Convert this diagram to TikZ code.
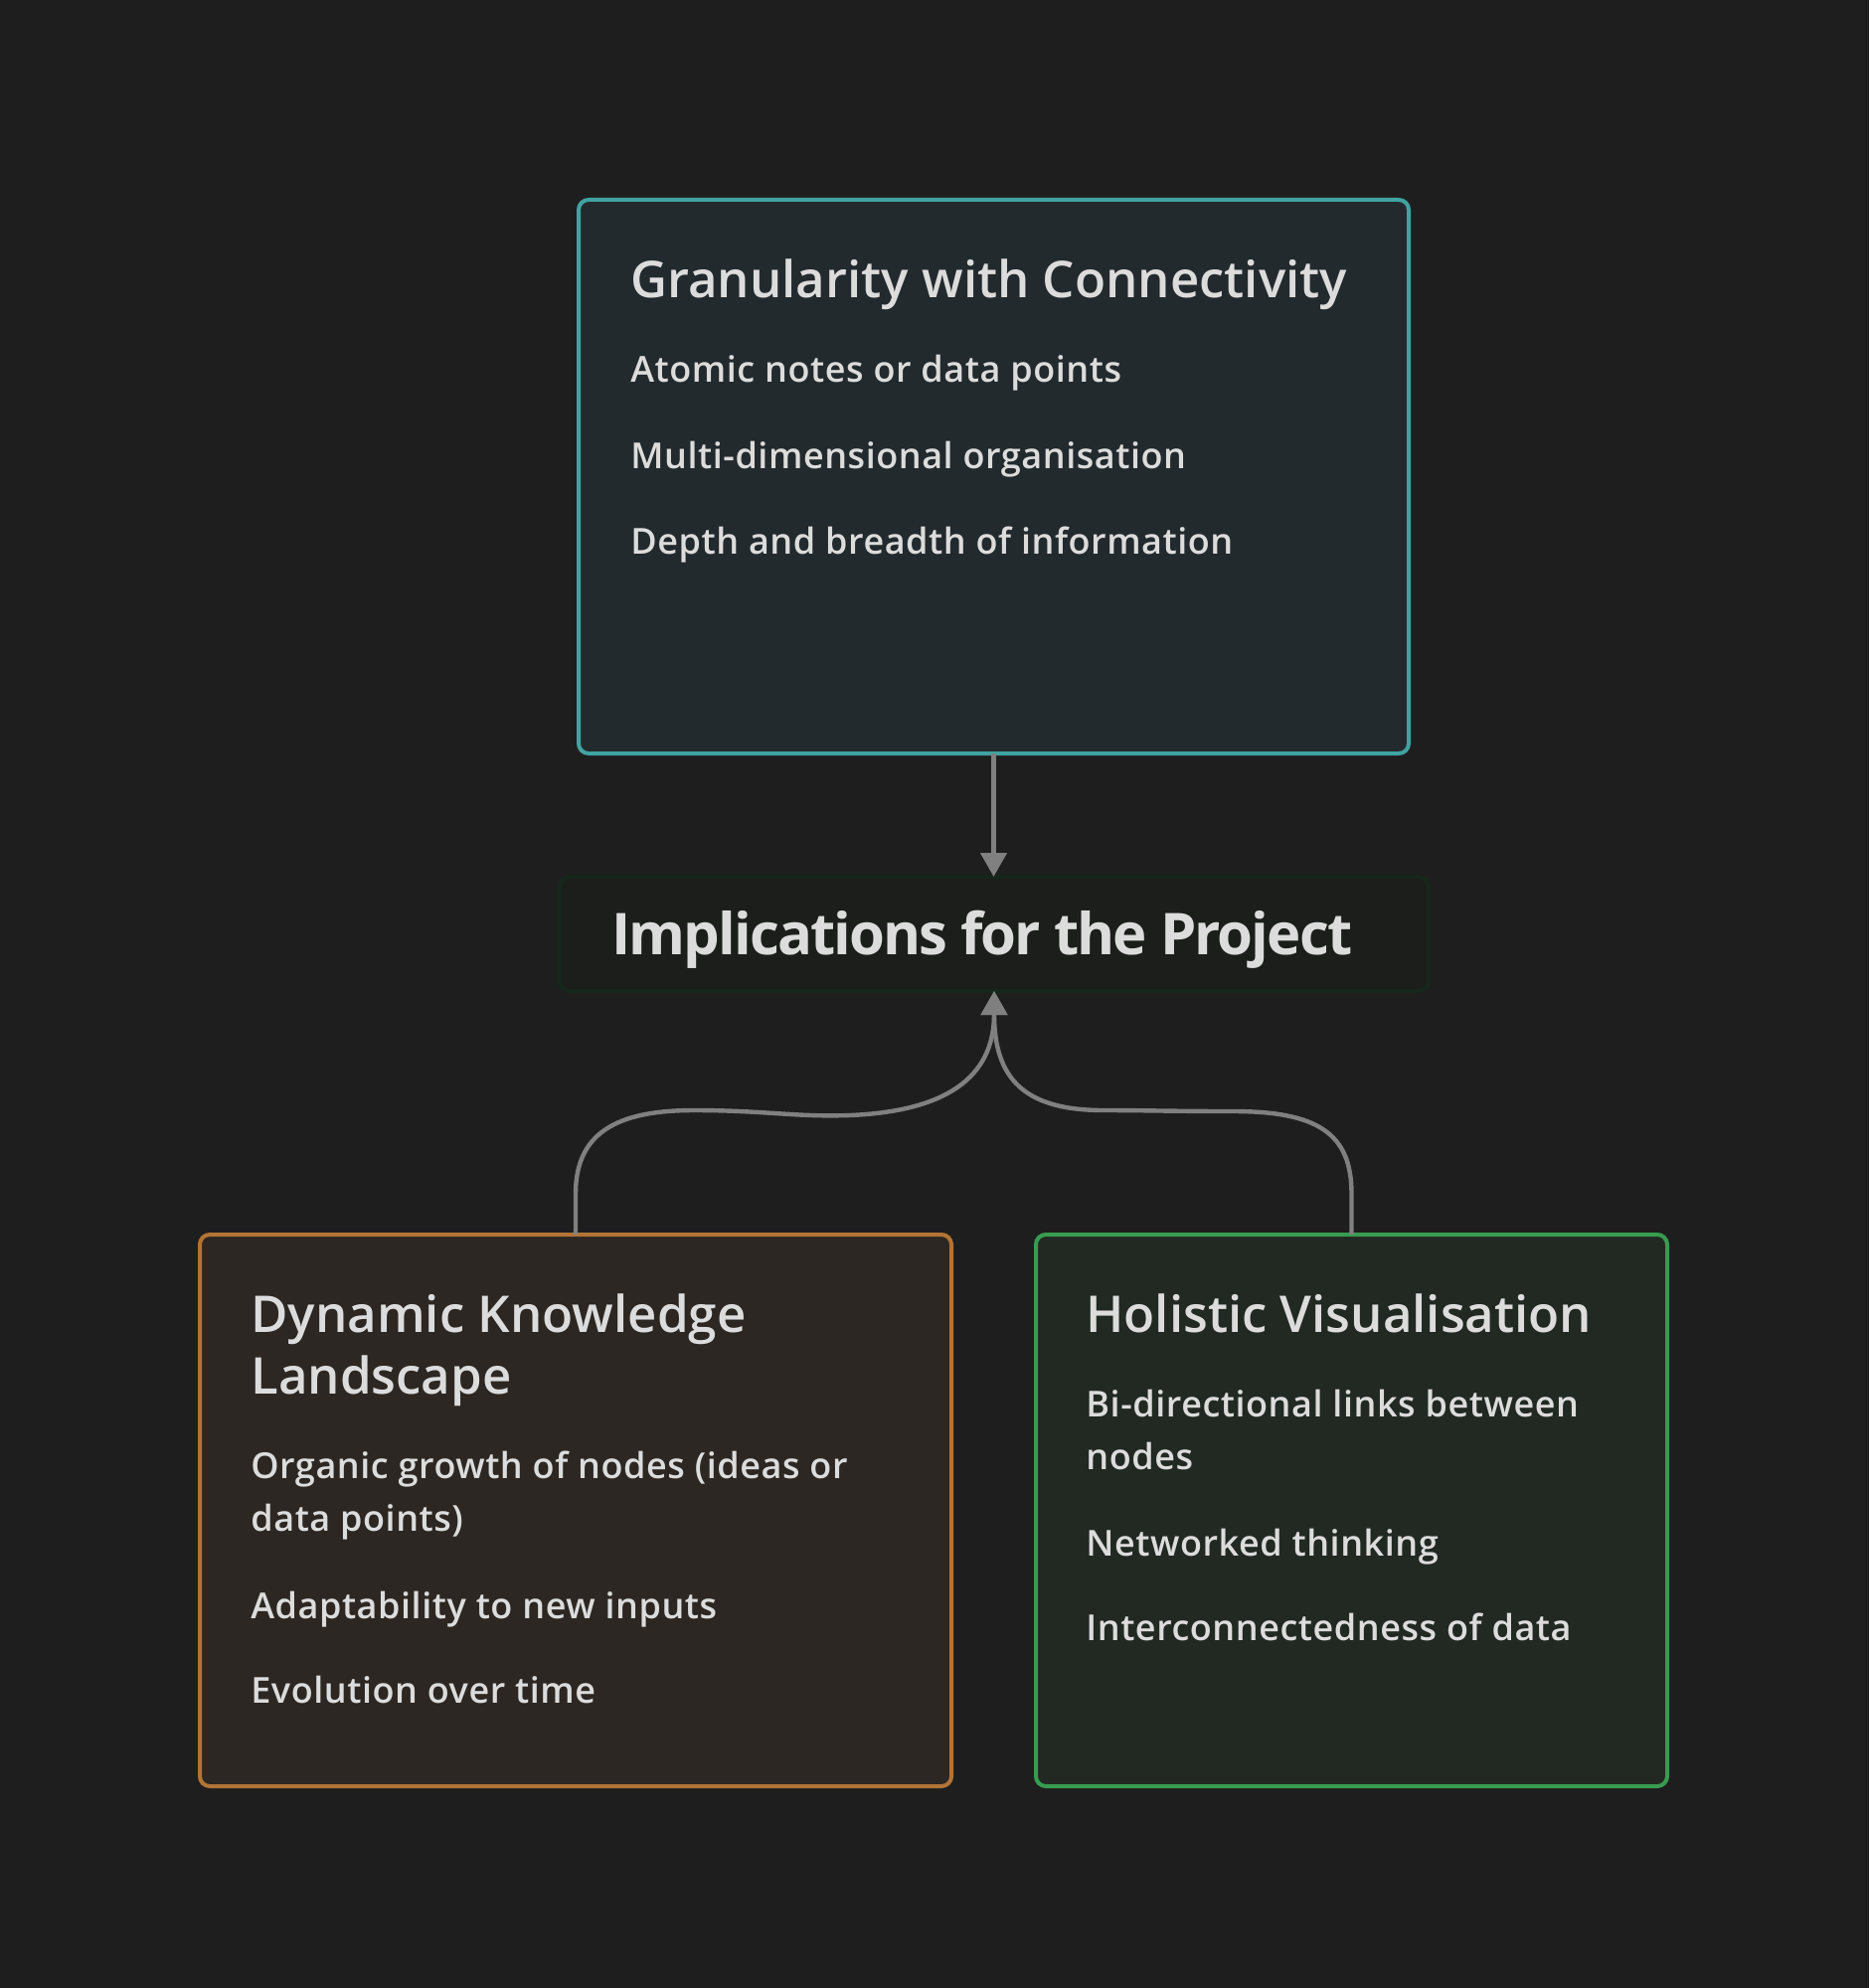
\documentclass[tikz,border=0pt]{standalone}
\usepackage{fontspec}
\setmainfont{Open Sans}
\IfFontExistsTF{Open Sans Medium}{%
  \newfontfamily\bodyf{Open Sans Medium}[LetterSpace=2.2]
  \newfontfamily\headf{Open Sans Medium}[LetterSpace=0.5]
}{%
\IfFontExistsTF{Open Sans SemiBold}{%
  \newfontfamily\bodyf{Open Sans SemiBold}[LetterSpace=1.5]
  \newfontfamily\headf{Open Sans SemiBold}[LetterSpace=0]
}{%
\IfFontExistsTF{Open Sans Semibold}{%
  \newfontfamily\bodyf{Open Sans Semibold}[LetterSpace=1.5]
  \newfontfamily\headf{Open Sans Semibold}[LetterSpace=0]
}{%
  \newfontfamily\bodyf{Open Sans}[LetterSpace=2.4, FakeBold=0.6]
  \newfontfamily\headf{Open Sans}[LetterSpace=1.0, FakeBold=0.6]
}}}
\newfontfamily\midf{Open Sans}[LetterSpace=-3.3]
\usetikzlibrary{arrows.meta}
\definecolor{bg}{HTML}{1E1E1E}
\definecolor{txt}{HTML}{DCDCDC}
\definecolor{tealb}{HTML}{40A3A1}
\definecolor{tealf}{HTML}{232A2D}
\definecolor{orb}{HTML}{B27436}
\definecolor{orf}{HTML}{2C2722}
\definecolor{grb}{HTML}{389B50}
\definecolor{grf}{HTML}{212922}
\definecolor{midb}{HTML}{15271A}
\definecolor{midfill}{HTML}{1B1E1B}
\definecolor{conn}{HTML}{808080}
\tikzset{
  box/.style={draw, rounded corners=5pt, line width=2pt, inner sep=0pt, outer sep=0pt},
  ht/.style={anchor=base west, inner sep=0pt, text=txt, font=\headf\fontsize{25.5pt}{30pt}\selectfont},
  bt/.style={anchor=base west, inner sep=0pt, text=txt, font=\bodyf\fontsize{18pt}{22pt}\selectfont},
  mt/.style={anchor=base west, inner sep=0pt, text=txt, font=\midf\bfseries\fontsize{29pt}{34pt}\selectfont},
  cn/.style={draw=conn, line width=2.2pt, -{Triangle[length=12pt,width=13pt]}}
}
\begin{document}
\begin{tikzpicture}[x=0.5pt,y=-0.5pt]
\fill[bg] (0,0) rectangle (1880,2000);
\useasboundingbox (0,0) rectangle (1880,2000);

% top box
\node[box, draw=tealb, fill=tealf, minimum width=417.5pt, minimum height=278.5pt] (gc) at (999.5,479.5) {};
\node[ht] (gct) at (634,300) {Granularity with Connectivity};
\node[bt] (gc1) at (634,385) {Atomic notes or data points};
\node[bt] (gc2) at (634,472) {Multi-dimensional organisation};
\node[bt] (gc3) at (634,557) {Depth and breadth of information};

% middle box
\node[box, draw=midb, fill=midfill, minimum width=437pt, minimum height=57.5pt] (impl) at (1000,939.5) {};
\node[mt] (implt) at (615,960) {Implications for the Project};

% left box
\node[box, draw=orb, fill=orf, minimum width=378pt, minimum height=277.5pt] (dk) at (579,1519.5) {};
\node[ht] (dkt1) at (252,1340) {Dynamic Knowledge};
\node[ht] (dkt2) at (252,1402) {Landscape};
\node[bt] (dk1a) at (252,1487) {Organic growth of nodes (ideas or};
\node[bt] (dk1b) at (252,1540) {data points)};
\node[bt] (dk2) at (252,1628) {Adaptability to new inputs};
\node[bt] (dk3) at (252,1713) {Evolution over time};

% right box
\node[box, draw=grb, fill=grf, minimum width=317.5pt, minimum height=277.5pt] (hv) at (1359.5,1519.5) {};
\node[ht] (hvt) at (1092,1340) {Holistic Visualisation};
\node[bt] (hv1a) at (1092,1425) {Bi-directional links between};
\node[bt] (hv1b) at (1092,1478) {nodes};
\node[bt] (hv2) at (1092,1565) {Networked thinking};
\node[bt] (hv3) at (1092,1650) {Interconnectedness of data};

% connectors
\draw[cn] (gc.south) -- (gc.south |- impl.north);
\draw[cn] (dk.north) -- ++(0,-41) .. controls (579,1140) and (620,1117) .. (698,1117)
  .. controls (770,1117) and (800,1124) .. (855,1122)
  .. controls (950,1118) and (1000,1085) .. (impl.south);
\draw[cn] (hv.north) -- ++(0,-41) .. controls (1359.5,1140) and (1325,1118) .. (1240,1118)
  .. controls (1180,1118) and (1150,1117) .. (1110,1117)
  .. controls (1030,1117) and (1000,1085) .. (impl.south);
\end{tikzpicture}
\end{document}
